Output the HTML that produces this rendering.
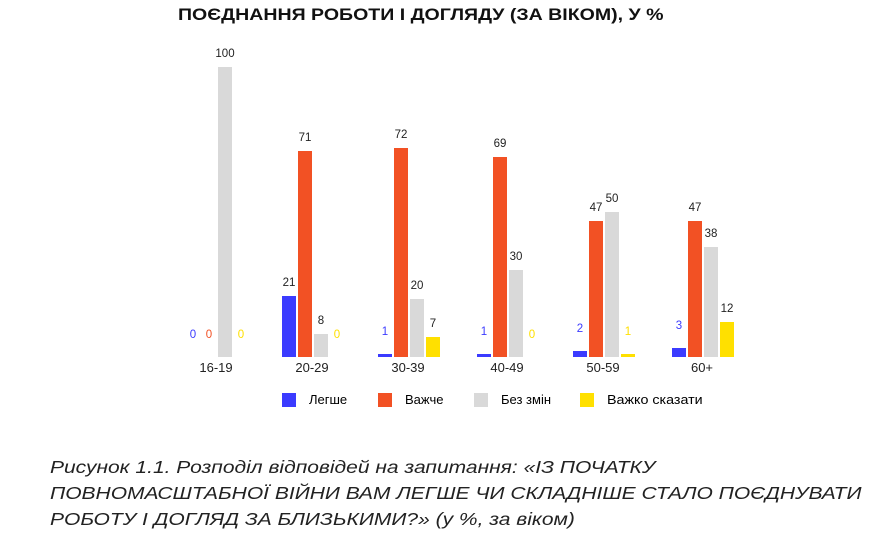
<!DOCTYPE html><html><head><meta charset="utf-8"><style>
body{margin:0;width:893px;height:535px;background:#fff;position:relative;overflow:hidden;font-family:"Liberation Sans",sans-serif}
.t{position:absolute;white-space:nowrap}
.b{position:absolute;width:14px}
.l{position:absolute;font-size:11.5px;width:30px;text-align:center;color:#222}
.c{position:absolute;font-size:13px;width:60px;text-align:center;color:#222;top:360px}
.cap{position:absolute;left:50px;font-style:italic;font-size:17.5px;color:#222;white-space:nowrap;transform:scaleX(1.2);transform-origin:0 0}
.lg{font-size:13px;top:392px}
</style></head><body>
<div class="t" style="left:178px;top:5px;font-weight:bold;font-size:17px;color:#111;transform:scaleX(1.15);transform-origin:0 0">ПОЄДНАННЯ РОБОТИ І ДОГЛЯДУ (ЗА ВІКОМ), У %</div>
<div id="ch"></div>
<div class="c" style="left:186px">16-19</div>
<div class="c" style="left:282px">20-29</div>
<div class="c" style="left:378px">30-39</div>
<div class="c" style="left:477px">40-49</div>
<div class="c" style="left:573px">50-59</div>
<div class="c" style="left:672px">60+</div>
<div class="b" style="left:282px;top:393px;height:14px;background:#3b3bff"></div><div class="t lg" style="left:309px">Легше</div>
<div class="b" style="left:378px;top:393px;height:14px;background:#f25124"></div><div class="t lg" style="left:405px">Важче</div>
<div class="b" style="left:474px;top:393px;height:14px;background:#d9d9d9"></div><div class="t lg" style="left:501px">Без змін</div>
<div class="b" style="left:580px;top:393px;height:14px;background:#ffe000"></div><div class="t lg" style="left:607px;transform:scaleX(1.1);transform-origin:0 0">Важко сказати</div>
<div class="cap" style="top:457px">Рисунок 1.1. Розподіл відповідей на запитання: «ІЗ ПОЧАТКУ</div>
<div class="cap" style="top:483px">ПОВНОМАСШТАБНОЇ ВІЙНИ ВАМ ЛЕГШЕ ЧИ СКЛАДНІШЕ СТАЛО ПОЄДНУВАТИ</div>
<div class="cap" style="top:509px">РОБОТУ І ДОГЛЯД ЗА БЛИЗЬКИМИ?» (у %, за віком)</div>
<script>
var d=[[0,0,100,0],[21,71,8,0],[1,72,20,7],[1,69,30,0],[2,47,50,1],[3,47,38,12]];
var s=[186,282,378,477,573,672],col=['#3b3bff','#f25124','#d9d9d9','#ffe000'];
var h='';
d.forEach(function(g,i){g.forEach(function(v,j){var x=s[i]+j*16,ht=v*2.9,top=357-ht;
if(v>0)h+='<div class="b" style="left:'+x+'px;top:'+top+'px;height:'+ht+'px;background:'+col[j]+'"></div>';
var lc=(v<5&&(j==0||j==3))||v==0?col[j]:'#222';
var ly=v<5?329-ht:top-19;
h+='<div class="l" style="left:'+(x-8)+'px;top:'+ly+'px;color:'+lc+'">'+v+'</div>';});});
document.getElementById('ch').innerHTML=h;
</script>
</body></html>
